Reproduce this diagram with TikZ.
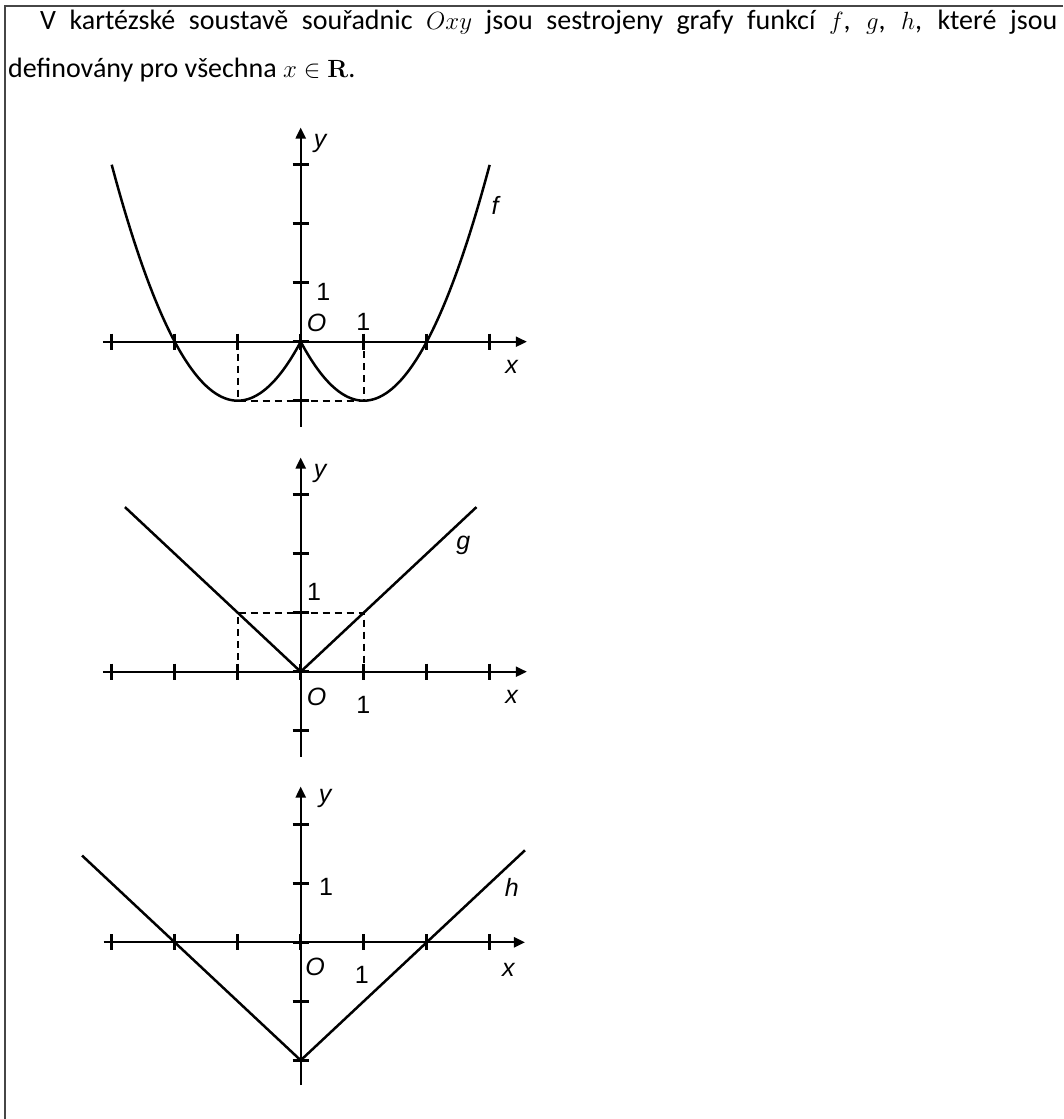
\documentclass[tikz,border=0pt]{standalone}
\usepackage{amsmath,amssymb}
\usepackage[no-math]{fontspec}
\setmainfont{Carlito}
\newfontfamily\plotfont{Liberation Sans}
\usepackage{tikz}
\usetikzlibrary{arrows.meta}
\definecolor{framegray}{RGB}{70,70,70}
\tikzset{
  framebox/.style={draw=framegray,line width=2pt},
  txt/.style={font=\fontsize{28}{32}\selectfont,inner sep=0pt},
  axis/.style={line width=2.2pt,-{Triangle[length=11pt,width=10pt]}},
  tickmark/.style={line width=2.6pt},
  graph/.style={line width=2.5pt,line join=round},
  guide/.style={line width=1.6pt,dash pattern=on 7pt off 5pt},
  lbl/.style={font=\plotfont\fontsize{25}{25}\selectfont,inner sep=0pt},
  ilbl/.style={lbl,font=\plotfont\itshape\fontsize{25}{25}\selectfont},
}

\begin{document}
\begin{tikzpicture}[x=1pt,y=-1pt]
  \useasboundingbox (0,0) rectangle (1063,1119);
  % frame
  \draw[framebox] (1063,5.5) -- (4.5,5.5) -- (4.5,1119);
  % text
  \node[txt,anchor=base west] (line1) at (40,29) {\makebox[1017pt][s]{V kartézské soustavě souřadnic $Oxy$ jsou sestrojeny grafy funkcí $f$, $g$, $h$, které jsou}};
  \node[txt,anchor=base west] (line2) at (8,77) {definovány pro všechna $x\in\mathbf{R}$.};
  % graph f
  \begin{scope}[shift={(300.7,341.7)},x=63pt,y=59pt]
    \draw[guide] (-1,0) -- (-1,-1) -- (1,-1) -- (1,0);
    \draw[axis] (-3.14,0) -- (3.59,0);
    \draw[axis] (0,-1.44) -- (0,3.63);
    \foreach \i in {-3,...,3} \draw[tickmark] (\i,0.135) -- (\i,-0.135);
    \foreach \j in {-1,...,3} \draw[tickmark] (-0.127,\j) -- (0.127,\j);
    \draw[graph] plot[domain=-3:0,samples=61,smooth] (\x,{\x*\x+2*\x});
    \draw[graph] plot[domain=0:3,samples=61,smooth] (\x,{\x*\x-2*\x});
  \end{scope}
  \node[ilbl] (fy) at (320,143) {y};
  \node[ilbl] (fname) at (495,205) {f};
  \node[lbl] (fone) at (323.3,291.7) {1};
  \node[ilbl] (forig) at (316.7,323) {O};
  \node[lbl] (fxone) at (363.3,321.7) {1};
  \node[ilbl] (fx) at (511.7,366.7) {x};
  % graph g
  \begin{scope}[shift={(300.7,671.7)},x=63pt,y=59pt]
    \draw[guide] (-1,0) -- (-1,1) -- (1,1) -- (1,0);
    \draw[axis] (-3.14,0) -- (3.59,0);
    \draw[axis] (0,-1.44) -- (0,3.63);
    \foreach \i in {-3,...,3} \draw[tickmark] (\i,0.135) -- (\i,-0.135);
    \foreach \j in {-1,...,3} \draw[tickmark] (-0.127,\j) -- (0.127,\j);
    \draw[graph] (-2.79,2.79) -- (0,0) -- (2.79,2.79);
  \end{scope}
  \node[ilbl] (gy) at (320,473) {y};
  \node[ilbl] (gname) at (463.3,545) {g};
  \node[lbl] (gone) at (314,591.7) {1};
  \node[ilbl] (gorig) at (316.7,696.7) {O};
  \node[lbl] (gxone) at (363.3,705) {1};
  \node[ilbl] (gx) at (511.7,696.7) {x};
  % graph h
  \begin{scope}[shift={(300.7,942.3)},x=63pt,y=59pt]
    \draw[axis] (-3.13,0) -- (3.56,0);
    \draw[axis] (0,-2.42) -- (0,2.64);
    \foreach \i in {-3,...,3} \draw[tickmark] (\i,0.135) -- (\i,-0.135);
    \foreach \j in {-2,...,2} \draw[tickmark] (-0.127,\j) -- (0.127,\j);
    \draw[graph] (-3.47,1.47) -- (0,-2) -- (3.56,1.56);
  \end{scope}
  \node[ilbl] (hy) at (325,798.3) {y};
  \node[lbl] (hone) at (326,887.3) {1};
  \node[ilbl] (hname) at (511.7,887.3) {h};
  \node[ilbl] (horig) at (315,966.7) {O};
  \node[lbl] (hxone) at (361.7,975) {1};
  \node[ilbl] (hx) at (508.3,970) {x};
\end{tikzpicture}
\end{document}
